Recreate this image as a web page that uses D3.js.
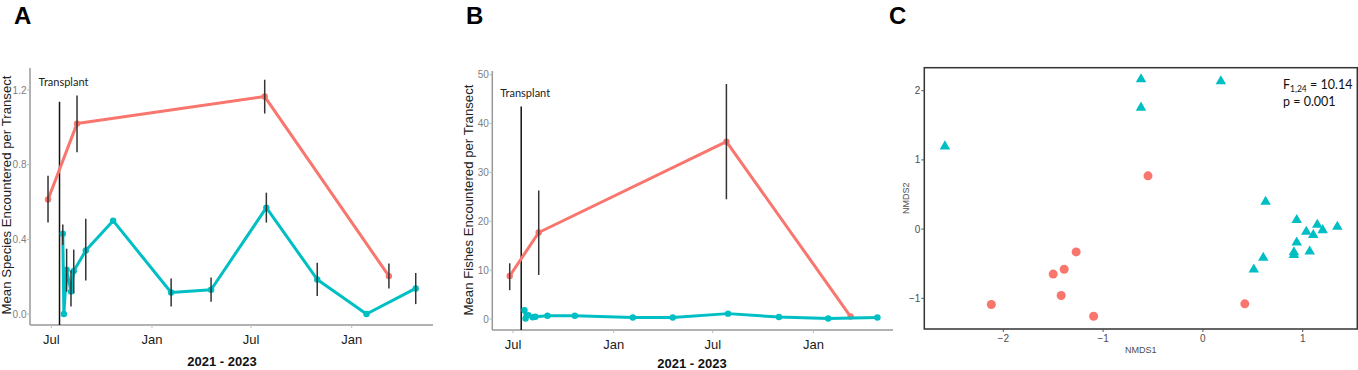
<!DOCTYPE html>
<html><head><meta charset="utf-8">
<script src="https://cdn.jsdelivr.net/npm/d3@7"></script>
<style>body{margin:0;background:#fff}svg{display:block}</style>
</head><body><svg id="c" width="1358" height="370"></svg>
<script>
// ---------- DATA ----------
const redDates = ["2021-06-25","2021-08-17","2022-07-26","2023-03-10"];
const tealDates = ["2021-07-22","2021-07-24","2021-07-29","2021-08-06","2021-08-11","2021-09-02","2021-10-22","2022-02-05","2022-04-19","2022-07-29","2022-10-30","2023-01-28","2023-04-28"];
const transplantDate = "2021-07-16";

const speciesRed   = [0.613, 1.02, 1.165, 0.203];
const speciesRedLo = [0.49, 0.866, 1.074, 0.137];
const speciesRedHi = [0.74, 1.17, 1.255, 0.27];
const speciesTeal   = [0.43, 0.0, 0.237, 0.12, 0.23, 0.34, 0.50, 0.115, 0.13, 0.57, 0.185, 0.0, 0.137];
const speciesTealLo = [0.37, 0.0, 0.12, 0.04, 0.11, 0.18, 0.50, 0.04, 0.066, 0.49, 0.096, 0.0, 0.053];
const speciesTealHi = [0.48, 0.0, 0.35, 0.235, 0.345, 0.51, 0.50, 0.19, 0.195, 0.65, 0.275, 0.0, 0.22];

const fishRed   = [8.8, 17.7, 36.3, 0.5];
const fishRedLo = [5.9, 9.0, 24.5, 0.5];
const fishRedHi = [11.4, 26.3, 48.1, 0.5];
const fishTeal  = [1.8, 0.1, 0.8, 0.35, 0.45, 0.65, 0.65, 0.3, 0.3, 1.1, 0.4, 0.1, 0.3];

const speciesTicks = [0, 0.4, 0.8, 1.2];
const fishTicks = [0, 10, 20, 30, 40, 50];

const circX = [-0.55, -1.27, -1.50, -1.39, -1.42, -2.12, -1.095, 0.42];
const circY = [0.77, -0.33, -0.65, -0.58, -0.96, -1.09, -1.26, -1.08];
const triX = [-0.62, 0.18, -0.62, -2.585, 0.628, 0.94, 1.146, 1.347, 1.036, 1.20, 1.106, 0.94, 0.912, 0.912, 1.07, 0.605, 0.51];
const triY = [2.18, 2.15, 1.77, 1.21, 0.41, 0.145, 0.077, 0.048, -0.025, 0.0, -0.072, -0.18, -0.32, -0.36, -0.31, -0.40, -0.57];
const nmdsXTicks = [-2, -1, 0, 1];
const nmdsYTicks = [-1, 0, 1, 2];

// ---------- DRAW ----------
const RED = "#F8766D", TEAL = "#00BFC4";
const parse = d3.timeParse("%Y-%m-%d");
const svg = d3.select("#c");
const SANS = "'Liberation Sans', Arial, sans-serif";
const CAL = "Lato, 'Open Sans', sans-serif";

function letter(x, t) {
  svg.append("text").attr("x", x).attr("y", 24).text(t)
    .attr("font-family", SANS).attr("font-weight", "bold").attr("font-size", 24).attr("fill", "#000");
}
letter(14, "A"); letter(466, "B"); letter(889, "C");

function timePanel(o) {
  const g = svg.append("g");
  const x = d3.scaleTime().domain([parse("2021-07-01"), parse("2023-01-01")]).range([o.x0, o.x1]);
  const y = d3.scaleLinear().domain(o.yDom).range(o.yRange);
  const left = o.axisL, right = o.axisR, bottom = o.axisB;

  g.append("line").attr("x1", left).attr("x2", right).attr("y1", bottom).attr("y2", bottom)
    .attr("stroke", "#999").attr("stroke-width", 1.5);
  g.append("line").attr("x1", left).attr("x2", left).attr("y1", o.axisT).attr("y2", bottom)
    .attr("stroke", "#999").attr("stroke-width", 1.5);

  const xt = d3.timeMonth.every(6).range(x.invert(left), x.invert(right));
  xt.forEach(d => {
    g.append("line").attr("x1", x(d)).attr("x2", x(d)).attr("y1", bottom).attr("y2", bottom + 3)
      .attr("stroke", "#bbb").attr("stroke-width", 1);
    g.append("text").attr("x", x(d)).attr("y", bottom + 19).attr("text-anchor", "middle")
      .attr("font-family", SANS).attr("font-size", 13).attr("fill", "#1a1a1a")
      .text(d3.timeFormat("%b")(d));
  });
  o.yTicks.forEach(v => {
    g.append("line").attr("x1", left - 3).attr("x2", left).attr("y1", y(v)).attr("y2", y(v))
      .attr("stroke", "#bbb").attr("stroke-width", 1);
    g.append("text").attr("x", left - 3.5).attr("y", y(v) + 3.6).attr("text-anchor", "end")
      .attr("font-family", SANS).attr("font-size", 10).attr("fill", "#808080")
      .text(o.fmt(v));
  });
  g.append("text").attr("x", o.xTitleX).attr("y", o.xTitleY).attr("text-anchor", "middle")
    .attr("font-family", SANS).attr("font-weight", "bold").attr("font-size", 13).attr("fill", "#111")
    .text("2021 - 2023");
  g.append("text").attr("transform", `translate(${o.yTitleX},${o.yTitleY}) rotate(-90)`)
    .attr("text-anchor", "middle").attr("font-family", SANS).attr("font-size", 13.2).attr("fill", "#222")
    .text(o.yTitle);

  const tx = x(parse(transplantDate));
  g.append("line").attr("x1", tx).attr("x2", tx).attr("y1", y(o.tTop)).attr("y2", bottom)
    .attr("stroke", "#111").attr("stroke-width", 1.5);
  g.append("text").attr("x", tx + 4).attr("y", y(o.tLabel)).attr("text-anchor", "middle")
    .attr("font-family", CAL).attr("font-size", 11).attr("fill", "#222").text("Transplant");

  const line = d3.line().x(d => x(d.d)).y(d => y(d.v));
  const red = redDates.map((d, i) => ({d: parse(d), v: o.red[i], lo: o.redLo[i], hi: o.redHi[i]}));
  const teal = tealDates.map((d, i) => ({d: parse(d), v: o.teal[i], lo: o.tealLo ? o.tealLo[i] : o.teal[i], hi: o.tealHi ? o.tealHi[i] : o.teal[i]}));

  [[red, RED], [teal, TEAL]].forEach(([data, col]) => {
    g.append("path").datum(data).attr("d", line).attr("fill", "none")
      .attr("stroke", col).attr("stroke-width", 3).attr("stroke-linejoin", "round");
    g.selectAll(null).data(data).enter().append("circle")
      .attr("cx", d => x(d.d)).attr("cy", d => y(d.v)).attr("r", 3.2).attr("fill", col);
  });
  [...red, ...teal].filter(d => d.hi - d.lo > 0.0001).forEach(d => {
    g.append("line").attr("x1", x(d.d)).attr("x2", x(d.d)).attr("y1", y(d.hi)).attr("y2", y(d.lo))
      .attr("stroke", "#333").attr("stroke-width", 1.5);
  });
}

timePanel({
  x0: 51.3, x1: 351.7, axisL: 30, axisR: 433, axisB: 325, axisT: 68,
  yDom: [0, 1.2], yRange: [314, 90], yTicks: speciesTicks, fmt: d3.format(".1f"),
  red: speciesRed, redLo: speciesRedLo, redHi: speciesRedHi,
  teal: speciesTeal, tealLo: speciesTealLo, tealHi: speciesTealHi,
  tTop: 1.137, tLabel: 1.22,
  xTitleX: 222, xTitleY: 366, yTitleX: 11, yTitleY: 195,
  yTitle: "Mean Species Encountered per Transect"
});

timePanel({
  x0: 51.3 + 461.7, x1: 351.7 + 461.7, axisL: 492.3, axisR: 893, axisB: 330, axisT: 71,
  yDom: [0, 50], yRange: [319, 74.7], yTicks: fishTicks, fmt: d3.format("d"),
  red: fishRed, redLo: fishRedLo, redHi: fishRedHi,
  teal: fishTeal, tealLo: null, tealHi: null,
  tTop: 43.5, tLabel: 45.5,
  xTitleX: 692, xTitleY: 368, yTitleX: 473, yTitleY: 200,
  yTitle: "Mean Fishes Encountered per Transect"
});

// ---------- Panel C ----------
(function () {
  const g = svg.append("g");
  const x = d3.scaleLinear().domain([-2, 1]).range([1003.3, 1302.7]);
  const y = d3.scaleLinear().domain([-1, 2]).range([298.3, 90.7]);
  const L = 924.3, R = 1357.3, T = 67.7, B = 329;

  g.append("rect").attr("x", L).attr("y", T).attr("width", R - L).attr("height", B - T)
    .attr("fill", "none").attr("stroke", "#333").attr("stroke-width", 1.5);

  nmdsXTicks.forEach(v => {
    g.append("line").attr("x1", x(v)).attr("x2", x(v)).attr("y1", B).attr("y2", B + 3)
      .attr("stroke", "#555").attr("stroke-width", 1);
    g.append("text").attr("x", x(v)).attr("y", B + 13).attr("text-anchor", "middle")
      .attr("font-family", SANS).attr("font-size", 10).attr("fill", "#4d4d4d").text(d3.format("d")(v));
  });
  nmdsYTicks.forEach(v => {
    g.append("line").attr("x1", L - 3).attr("x2", L).attr("y1", y(v)).attr("y2", y(v))
      .attr("stroke", "#555").attr("stroke-width", 1);
    g.append("text").attr("x", L - 4).attr("y", y(v) + 3.5).attr("text-anchor", "end")
      .attr("font-family", SANS).attr("font-size", 10).attr("fill", "#4d4d4d").text(d3.format("d")(v));
  });
  g.append("text").attr("x", (L + R) / 2).attr("y", 353).attr("text-anchor", "middle")
    .attr("font-family", SANS).attr("font-size", 9).attr("fill", "#4d4d4d").text("NMDS1");
  g.append("text").attr("transform", `translate(909,${(T + B) / 2}) rotate(-90)`).attr("text-anchor", "middle")
    .attr("font-family", SANS).attr("font-size", 9).attr("fill", "#4d4d4d").text("NMDS2");

  circX.forEach((v, i) => {
    g.append("circle").attr("cx", x(v)).attr("cy", y(circY[i])).attr("r", 4.5).attr("fill", RED);
  });
  const tri = d3.symbol().type(d3.symbolTriangle).size(48);
  triX.forEach((v, i) => {
    g.append("path").attr("d", tri).attr("transform", `translate(${x(v)},${y(triY[i]) + 1})`).attr("fill", TEAL);
  });

  const t = g.append("text").attr("x", 1283).attr("y", 89).attr("font-family", CAL)
    .attr("font-size", 12.5).attr("fill", "#111");
  t.append("tspan").text("F");
  t.append("tspan").attr("font-size", 8.5).attr("dy", 3).text("1,24");
  t.append("tspan").attr("dy", -3).text(" = 10.14");
  g.append("text").attr("x", 1283).attr("y", 106).attr("font-family", CAL)
    .attr("font-size", 12.5).attr("fill", "#111").text("p = 0.001");
})();
</script></body></html>
